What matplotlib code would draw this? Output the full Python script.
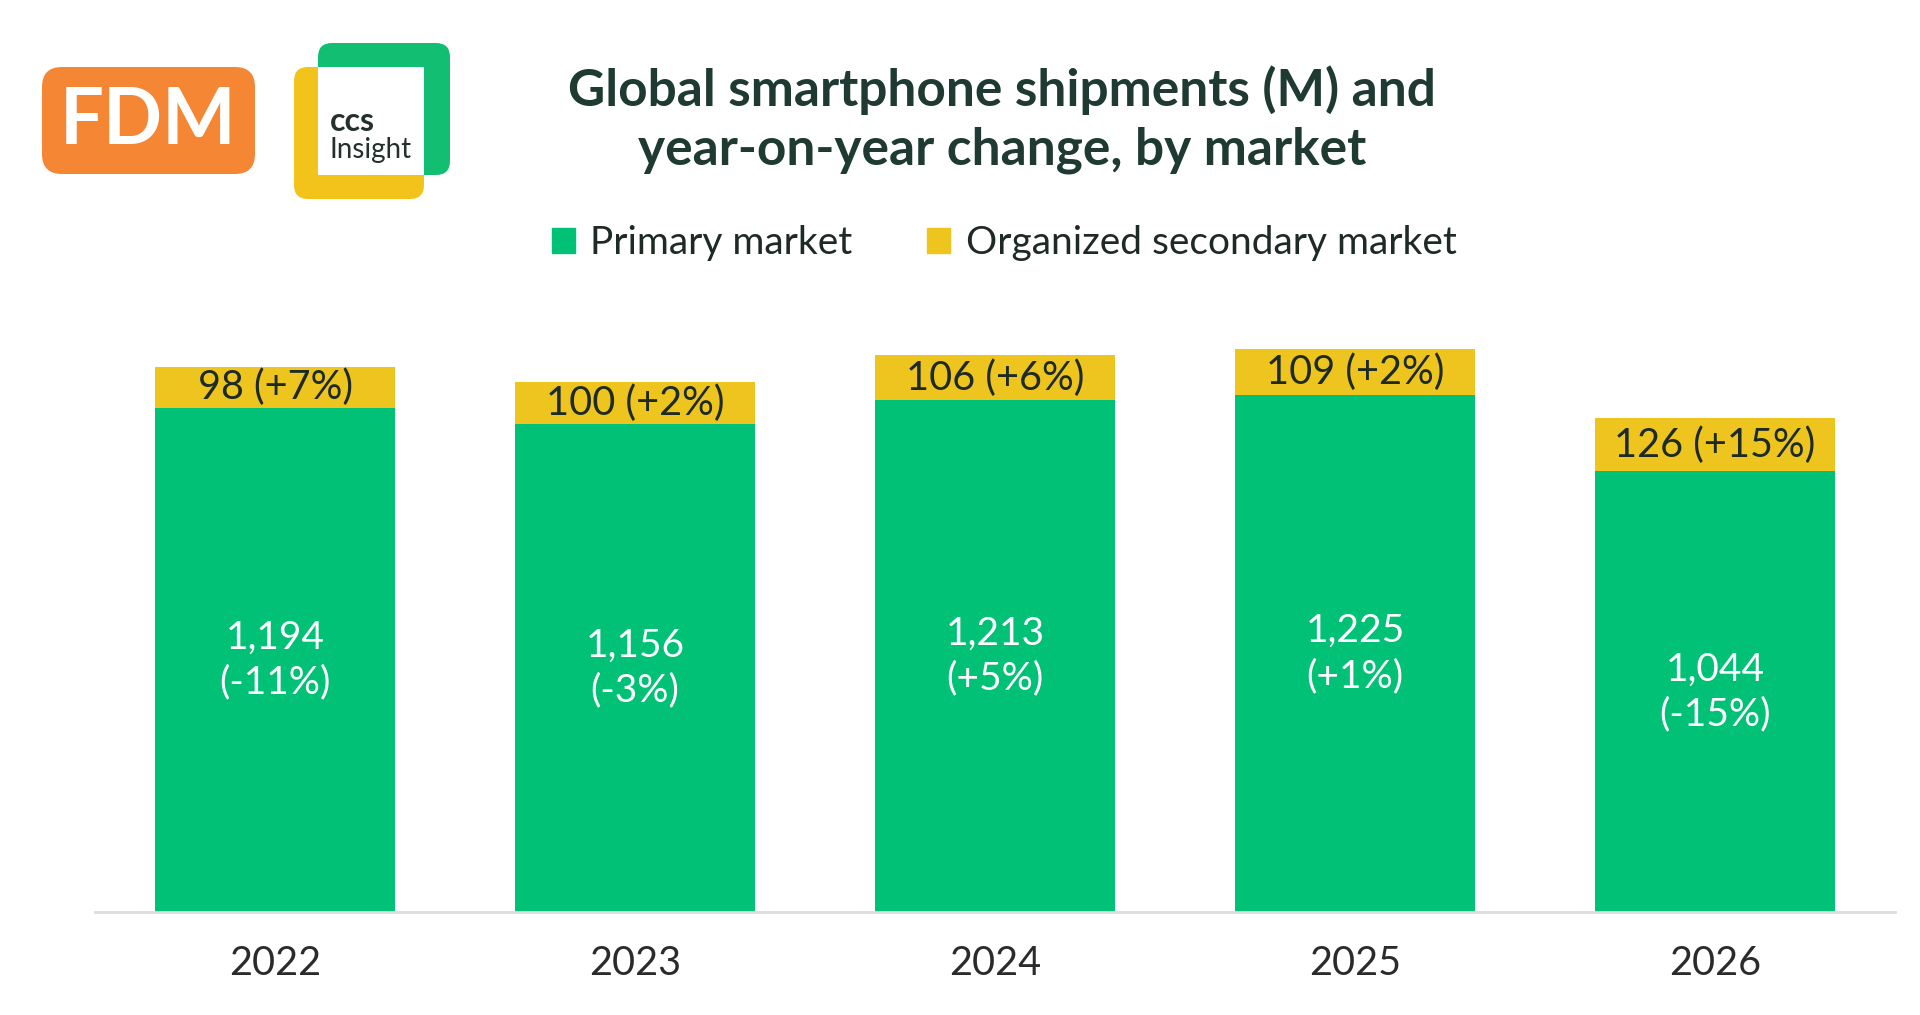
import matplotlib.pyplot as plt
from matplotlib.patches import FancyBboxPatch, Rectangle, Patch

plt.rcParams['font.family'] = ['Lato', 'DejaVu Sans']

# data
years = ['2022', '2023', '2024', '2025', '2026']
primary = [1194, 1156, 1213, 1225, 1044]
primary_yoy = ['-11%', '-3%', '+5%', '+1%', '-15%']
secondary = [98, 100, 106, 109, 126]
secondary_yoy = ['+7%', '+2%', '+6%', '+2%', '+15%']

GREEN = '#00C176'
YELLOW = '#EEC51E'
DARK = '#1E3A32'

fig = plt.figure(figsize=(19.2, 10.15), dpi=100)
fig.patch.set_facecolor('white')

# main bar chart
ax = fig.add_axes([0.0495, 0.1015, 0.9375, 0.582])
x = range(len(years))
b1 = ax.bar(x, primary, width=0.665, color=GREEN, zorder=2)
b2 = ax.bar(x, secondary, width=0.665, bottom=primary, color=YELLOW, zorder=2)

for i in x:
    ax.text(i, primary[i] / 2, f'{primary[i]:,}\n({primary_yoy[i]})',
            ha='center', va='center', color='white', fontsize=28, linespacing=1.3)
    ax.text(i, primary[i] + secondary[i] / 2, f'{secondary[i]} ({secondary_yoy[i]})',
            ha='center', va='center', color='#1E2A24', fontsize=28.5)

ax.set_xlim(-0.5, 4.5)
ax.set_ylim(0, 1400)
ax.set_xticks(list(x))
ax.set_xticklabels(years, fontsize=28.5, color='#2B2B2B')
ax.tick_params(axis='x', length=0, pad=24)
ax.set_yticks([])
for s in ['top', 'right', 'left']:
    ax.spines[s].set_visible(False)
ax.spines['bottom'].set_color('#DCDCDC')
ax.spines['bottom'].set_linewidth(2)

# overlay in pixel coordinates for title, logos, legend
ov = fig.add_axes([0, 0, 1, 1], zorder=-1)
ov.set_xlim(0, 1920)
ov.set_ylim(1015, 0)
ov.axis('off')

ov.text(1002, 120, 'Global smartphone shipments (M) and\nyear-on-year change, by market',
        ha='center', va='center', fontsize=37, fontweight='bold', color=DARK,
        linespacing=1.3)

# FDM logo
ov.add_patch(FancyBboxPatch((42, 67), 213, 107, boxstyle='round,pad=0,rounding_size=20',
                            fc='#F58634', ec='none'))
ov.text(148, 122, 'FDM', ha='center', va='center', color='white', fontsize=56,
        fontweight='bold')

# CCS Insight logo
ov.add_patch(FancyBboxPatch((294, 67), 130, 132, boxstyle='round,pad=0,rounding_size=14',
                            fc='#F2C31A', ec='none'))
ov.add_patch(FancyBboxPatch((318, 43), 132, 132, boxstyle='round,pad=0,rounding_size=14',
                            fc='#12BF72', ec='none'))
ov.add_patch(Rectangle((318, 67), 106, 108, fc='white', ec='none'))
ov.text(330, 121, 'ccs', ha='left', va='center', color='#23302B', fontsize=23,
        fontweight='bold')
ov.text(329, 150, 'Insight', ha='left', va='center', color='#23302B', fontsize=20)

# legend
handles = [Patch(color=GREEN), Patch(color=YELLOW)]
fig.legend(handles, ['Primary market', 'Organized secondary market'],
           loc='center', bbox_to_anchor=(1004 / 1920, 1 - 243 / 1015), ncol=2,
           frameon=False, fontsize=28, handlelength=0.6, handleheight=0.6,
           handletextpad=0.4, columnspacing=1.9, labelcolor='#1E2A24')

fig.savefig('out.png', dpi=100)
